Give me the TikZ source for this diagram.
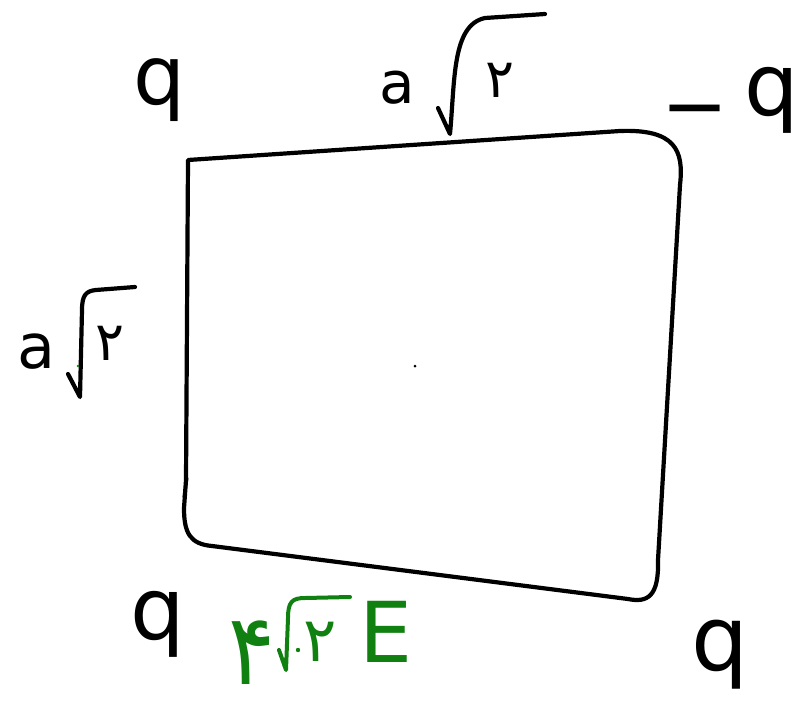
\documentclass[tikz,border=0pt]{standalone}
\usepackage{fontspec}
\setmainfont{DejaVu Sans}
\newfontfamily\fa{DejaVu Sans}
\definecolor{pen}{RGB}{0,0,0}
\definecolor{greenpen}{RGB}{16,128,16}
\begin{document}
\begin{tikzpicture}[x=1pt,y=-1pt,
  stroke/.style={line width=4.2pt,line cap=round,line join=round,draw=pen},
  gstroke/.style={line width=4pt,line cap=round,line join=round,draw=greenpen},
  lab/.style={inner sep=0pt,text=pen,font=\fontsize{#1}{#1}\selectfont},
  glab/.style={inner sep=0pt,text=greenpen,font=\fontsize{#1}{#1}\selectfont}]
\useasboundingbox (0,0) rectangle (809,715);
% square
\draw[stroke] (188,160) -- (620,131)
  .. controls (675,129) and (684,150) .. (680,185)
  -- (658,560)
  .. controls (659,596) and (648,603) .. (628,599)
  -- (212,546)
  .. controls (190,544) and (184,533) .. (184,508)
  -- (186,480) -- cycle;
\draw[stroke,line width=3pt] (187,478) -- (184,497);
% centre point
\fill[pen] (415,366) circle (1.5pt);
% corner charges
\node[lab=82] (qtl) at (160,90) {q};
\node[lab=80] (minus) at (695,119) {−};
\node[lab=86] (qtr) at (772,100) {q};
\node[lab=86] (qbl) at (158,624) {q};
\node[lab=90] (qbr) at (720,655) {q};
% top side length  a sqrt 2
\node[lab=58] (ta) at (397,88) {a};
\node[lab=54] (t2) at (500,80) {\fa ۲};
\draw[stroke] (438,108) -- (450,134) .. controls (455,80) and (452,25) .. (485,18) -- (545,14);
% left side length
\node[lab=62] (la) at (36,352) {a};
\node[lab=54] (l2) at (110,343) {\fa ۲};
\draw[stroke] (68,374) -- (80,397) -- (82,310) .. controls (82,295) and (86,291) .. (96,290) -- (135,287);
\fill[greenpen] (78,366) circle (1.3pt);
% field
\node[glab=60,anchor=base] (g4) at (252,684) {\raisebox{0pt}[\height][0pt]{\scalebox{1.45}[1.65]{\fa ۴}}};
\node[glab=62] (g2) at (320,642) {\fa ۲};
\node[glab=84] (gE) at (386,632) {E};
\draw[gstroke] (279,650) -- (286,670) -- (288,618) .. controls (288,602) and (292,598) .. (305,598) -- (350,597);
\fill[greenpen] (298,650) circle (2.2pt);
\end{tikzpicture}
\end{document}
